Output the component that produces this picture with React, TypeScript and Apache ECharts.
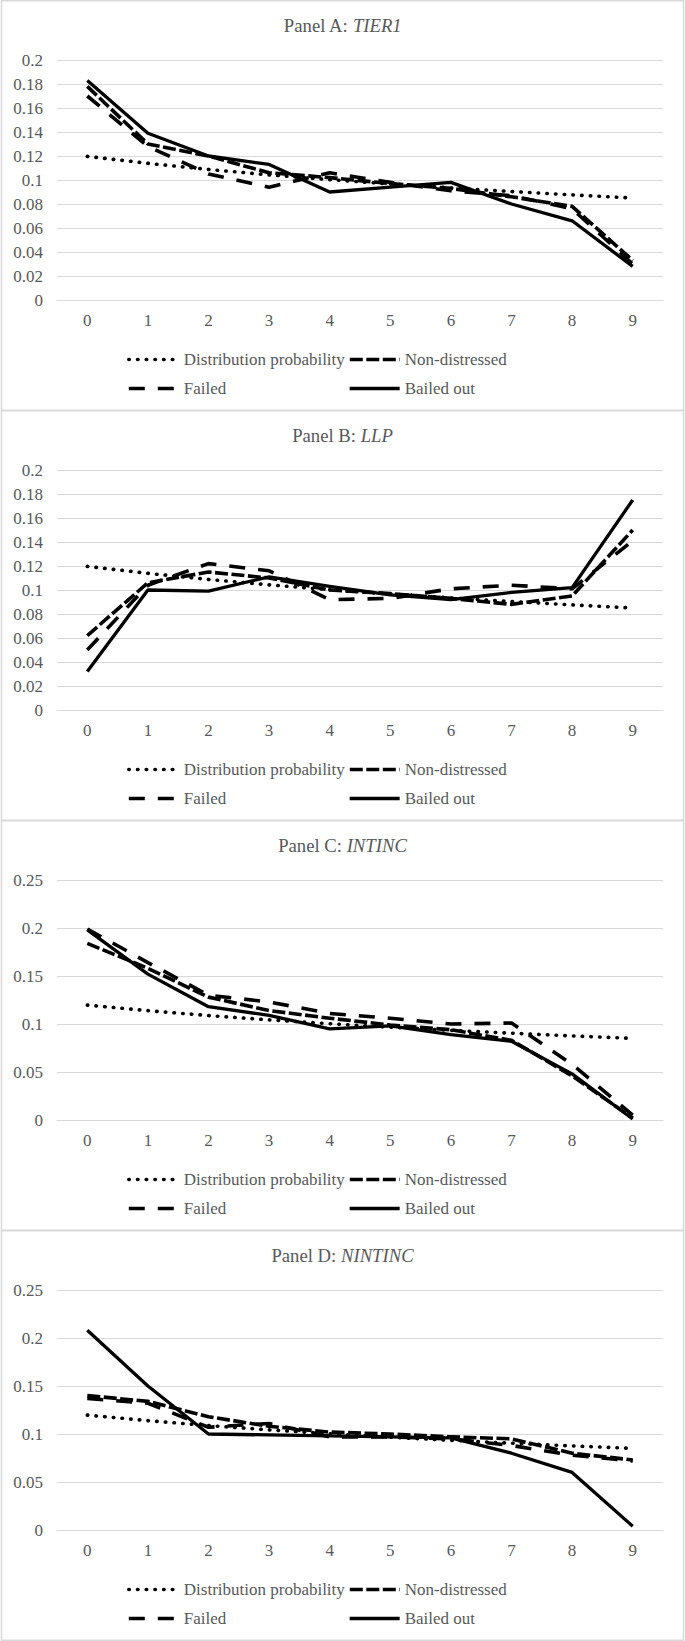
import React, { useEffect, useRef } from "react";
import * as echarts from "echarts";

const CATEGORIES = ["0", "1", "2", "3", "4", "5", "6", "7", "8", "9"];
const PANEL_LABELS = ["Panel A: ", "Panel B: ", "Panel C: ", "Panel D: "];
const PANEL_VARS = ["TIER1", "LLP", "INTINC", "NINTINC"];
const Y_MAX = [0.2, 0.2, 0.25, 0.25];
const Y_INTERVAL = [0.02, 0.02, 0.05, 0.05];

const SERIES_NAMES = ["Distribution probability", "Non-distressed", "Failed", "Bailed out"];

const DIST_PROB = [0.1197, 0.1139, 0.1088, 0.1043, 0.1003, 0.0967, 0.0934, 0.0904, 0.0876, 0.085];

// Panel A: TIER1
const NON_A = [0.178, 0.13, 0.12, 0.106, 0.102, 0.097, 0.093, 0.086, 0.078, 0.033];
const FAIL_A = [0.17, 0.128, 0.105, 0.094, 0.106, 0.098, 0.091, 0.087, 0.076, 0.03];
const BAIL_A = [0.183, 0.139, 0.12, 0.113, 0.09, 0.094, 0.098, 0.08, 0.066, 0.028];

// Panel B: LLP
const NON_B = [0.062, 0.106, 0.115, 0.11, 0.1, 0.097, 0.093, 0.088, 0.095, 0.15];
const FAIL_B = [0.05, 0.104, 0.122, 0.116, 0.092, 0.093, 0.101, 0.104, 0.101, 0.141];
const BAIL_B = [0.032, 0.1, 0.099, 0.111, 0.103, 0.096, 0.092, 0.098, 0.102, 0.175];

// Panel C: INTINC
const NON_C = [0.184, 0.158, 0.128, 0.114, 0.106, 0.099, 0.094, 0.083, 0.046, 0.002];
const FAIL_C = [0.199, 0.164, 0.13, 0.123, 0.111, 0.106, 0.1, 0.101, 0.058, 0.005];
const BAIL_C = [0.198, 0.152, 0.118, 0.109, 0.095, 0.098, 0.089, 0.082, 0.048, 0.001];

// Panel D: NINTINC
const NON_D = [0.14, 0.134, 0.118, 0.108, 0.102, 0.1, 0.097, 0.095, 0.08, 0.073];
const FAIL_D = [0.137, 0.132, 0.107, 0.111, 0.097, 0.097, 0.095, 0.088, 0.078, 0.072];
const BAIL_D = [0.208, 0.15, 0.1, 0.099, 0.098, 0.097, 0.096, 0.08, 0.06, 0.004];

const PANEL_DATA = [
  [DIST_PROB, NON_A, FAIL_A, BAIL_A],
  [DIST_PROB, NON_B, FAIL_B, BAIL_B],
  [DIST_PROB, NON_C, FAIL_C, BAIL_C],
  [DIST_PROB, NON_D, FAIL_D, BAIL_D],
];

const FONT = "Liberation Serif";
const GRAY = "#595959";
const GRID_COLOR = "#d9d9d9";
const PANEL_H = 410;
const W = 685;
const H = 1641;
const LABEL_SIZE = 17;

const LINE_STYLES: any[] = [
  { color: "#000", width: 3.6, type: [0.5, 8.2], cap: "round", join: "round" },
  { color: "#000", width: 3.6, type: [13, 3.5], cap: "butt", join: "round" },
  { color: "#000", width: 3.6, type: [16, 13], cap: "butt", join: "round" },
  { color: "#000", width: 3.3, type: "solid", cap: "butt", join: "round" },
];

const LEGEND_POS = [
  { left: 127, row: 0 },
  { left: 348, row: 0 },
  { left: 127, row: 1 },
  { left: 348, row: 1 },
];

function buildOption() {
  const title: any[] = [];
  const grid: any[] = [];
  const xAxis: any[] = [];
  const yAxis: any[] = [];
  const series: any[] = [];
  const legend: any[] = [];
  const graphic: any[] = [];

  for (let p = 0; p < 4; p++) {
    const off = p * PANEL_H;
    graphic.push({
      type: "rect",
      shape: { x: 1.5, y: off + 0.75, width: 682, height: PANEL_H - 0.5 },
      style: { fill: "none", stroke: GRID_COLOR, lineWidth: 1.5 },
      silent: true,
    });
    title.push({
      text: `{n|${PANEL_LABELS[p]}}{i|${PANEL_VARS[p]}}`,
      left: "center",
      top: off + 16,
      padding: 0,
      textStyle: {
        fontFamily: FONT,
        rich: {
          n: { fontFamily: FONT, fontSize: 18.7, color: GRAY, fontWeight: "normal" },
          i: { fontFamily: FONT, fontSize: 18.7, color: GRAY, fontStyle: "italic", fontWeight: "normal" },
        },
      },
    });
    grid.push({ left: 57, right: 22, top: off + 60, height: 240 });
    xAxis.push({
      type: "category",
      gridIndex: p,
      data: CATEGORIES,
      boundaryGap: true,
      axisLine: { show: true, lineStyle: { color: GRID_COLOR, width: 1 } },
      axisTick: { show: false },
      axisLabel: { color: GRAY, fontFamily: FONT, fontSize: LABEL_SIZE, margin: 12 },
      splitLine: { show: false },
    });
    yAxis.push({
      type: "value",
      gridIndex: p,
      min: 0,
      max: Y_MAX[p],
      interval: Y_INTERVAL[p],
      axisLine: { show: false },
      axisTick: { show: false },
      axisLabel: { color: GRAY, fontFamily: FONT, fontSize: LABEL_SIZE, margin: 14 },
      splitLine: { show: true, lineStyle: { color: GRID_COLOR, width: 1 } },
    });
    for (let s = 0; s < 4; s++) {
      series.push({
        name: SERIES_NAMES[s],
        type: "line",
        xAxisIndex: p,
        yAxisIndex: p,
        data: PANEL_DATA[p][s],
        symbol: "none",
        showSymbol: false,
        itemStyle: { color: "#000" },
        lineStyle: LINE_STYLES[s],
        z: 2 + s,
      });
      legend.push({
        data: [SERIES_NAMES[s]],
        left: LEGEND_POS[s].left,
        top: off + 351 + LEGEND_POS[s].row * 29,
        padding: 0,
        itemWidth: 50,
        itemHeight: 14,
        selectedMode: false,
        textStyle: { color: GRAY, fontFamily: FONT, fontSize: LABEL_SIZE },
        itemStyle: { color: "transparent", opacity: 0, borderWidth: 0 },
        lineStyle: LINE_STYLES[s],
      });
    }
  }

  return {
    animation: false,
    backgroundColor: "#fff",
    textStyle: { fontFamily: FONT },
    title,
    grid,
    xAxis,
    yAxis,
    series,
    legend,
    graphic,
  };
}

export default function App() {
  const ref = useRef<HTMLDivElement>(null);
  useEffect(() => {
    document.body.style.margin = "0";
    if (!ref.current) return;
    const chart = echarts.init(ref.current, undefined, { renderer: "svg" });
    chart.setOption(buildOption() as any);
    return () => {
      chart.dispose();
    };
  }, []);
  return <div ref={ref} style={{ width: W, height: H }} />;
}
